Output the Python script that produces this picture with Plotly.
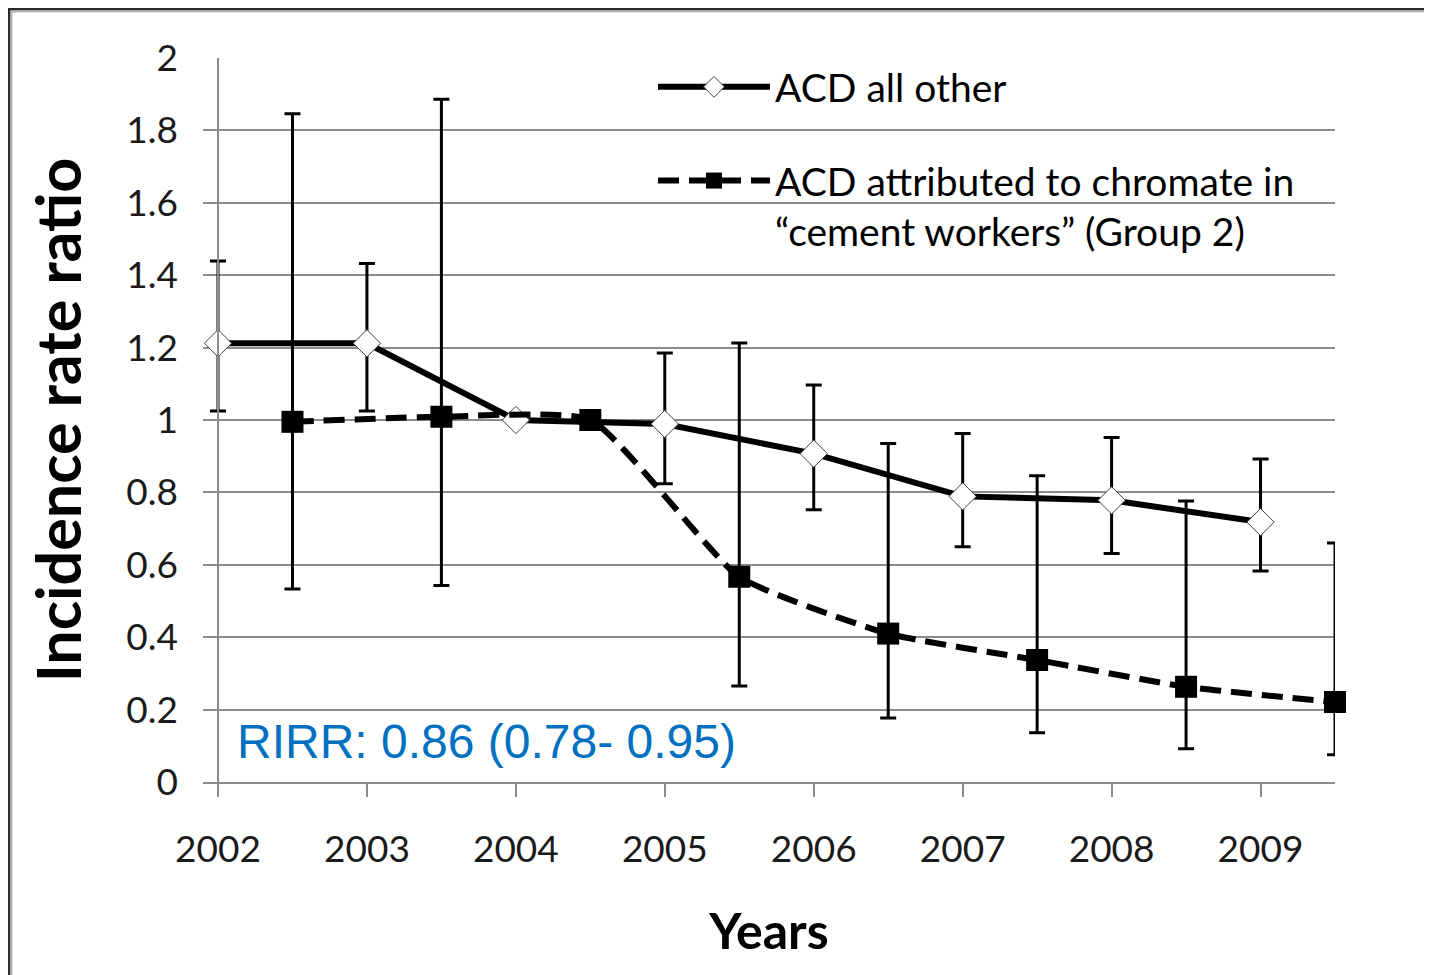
import plotly.graph_objects as go

# ---- data ----
years = [2002, 2003, 2004, 2005, 2006, 2007, 2008, 2009]
year_ticks = ["2002", "2003", "2004", "2005", "2006", "2007", "2008", "2009"]

# ACD all other
other_x = [2002, 2003, 2004, 2005, 2006, 2007, 2008, 2009]
other_irr = [1.212, 1.212, 1.0, 0.989, 0.907, 0.789, 0.778, 0.718]
other_hi = [1.439, 1.432, 1.0, 1.185, 1.097, 0.963, 0.952, 0.892]
other_lo = [1.025, 1.025, 1.0, 0.824, 0.752, 0.650, 0.631, 0.583]

# ACD attributed to chromate in "cement workers" (Group 2)
cement_x = [2002.5, 2003.5, 2004.5, 2005.5, 2006.5, 2007.5, 2008.5, 2009.5]
cement_irr = [0.995, 1.009, 1.0, 0.567, 0.410, 0.337, 0.263, 0.221]
cement_hi = [1.846, 1.886, 1.0, 1.213, 0.935, 0.846, 0.776, 0.660]
cement_lo = [0.533, 0.543, 1.0, 0.265, 0.177, 0.136, 0.092, 0.075]

y_ticks = [0, 0.2, 0.4, 0.6, 0.8, 1.0, 1.2, 1.4, 1.6, 1.8, 2.0]
y_tick_labels = ["0", "0.2", "0.4", "0.6", "0.8", "1", "1.2", "1.4", "1.6", "1.8", "2"]

name_other = "ACD all other"
name_cement = "ACD attributed to chromate in<br>\u201ccement workers\u201d (Group 2)"
rirr_text = "RIRR: 0.86 (0.78- 0.95)"


def err_up(v, hi):
    return [h - a for a, h in zip(v, hi)]


def err_down(v, lo):
    return [a - l for a, l in zip(v, lo)]


FONT = "Lato"
GRID = "#8c8c8c"

fig = go.Figure()

fig.add_trace(go.Scatter(
    x=other_x, y=other_irr, name=name_other, legendgroup="a",
    mode="lines+markers", cliponaxis=False,
    line=dict(color="black", width=6),
    marker=dict(symbol="diamond", size=21, color="white",
                line=dict(color="#404040", width=1)),
    error_y=dict(type="data", symmetric=False,
                 array=err_up(other_irr, other_hi),
                 arrayminus=err_down(other_irr, other_lo),
                 color="black", thickness=3, width=8),
))

fig.add_trace(go.Scatter(
    x=cement_x, y=cement_irr, name=name_cement, legendgroup="b",
    mode="lines+markers", cliponaxis=False,
    line=dict(color="black", width=6, dash="21px,10px", shape="spline", smoothing=0.5),
    marker=dict(symbol="square", size=22, color="black",
                line=dict(color="black", width=0)),
    error_y=dict(type="data", symmetric=False,
                 array=err_up(cement_irr, cement_hi),
                 arrayminus=err_down(cement_irr, cement_lo),
                 color="black", thickness=3, width=8),
))

# the page body has an 8px margin, so the figure starts 8px in
W, H = 1432, 975
PAGE_OFF = 8
PLOT_L, PLOT_R, PLOT_T, PLOT_B = 203, 1335, 58, 782   # page pixels of the plot area
AXIS_X = 218                                           # page pixel of the y-axis line (year 2002)
L, T = PLOT_L - PAGE_OFF, PLOT_T - PAGE_OFF
pw, ph = PLOT_R - PLOT_L, PLOT_B - PLOT_T
R, B = W - L - pw, H - T - ph

X_END = 2009.5
px_per_year = (PLOT_R - AXIS_X) / (X_END - years[0])
X_START = years[0] - (AXIS_X - PLOT_L) / px_per_year


def px_x(p):
    return (p - PLOT_L) / pw


def px_y(q):
    return (PLOT_B - q) / ph


fig.update_layout(
    width=W, height=H,
    margin=dict(l=L, r=R, t=T, b=B, autoexpand=False),
    paper_bgcolor="white", plot_bgcolor="white",
    font=dict(family=FONT, color="#1a1a1a"),
    showlegend=True,
    legend=dict(
        x=px_x(653), y=px_y(55), xanchor="left", yanchor="top",
        bgcolor="rgba(0,0,0,0)", borderwidth=0,
        font=dict(family=FONT, size=39, color="black"),
        itemwidth=112, valign="top", tracegroupgap=40,
        traceorder="grouped",
    ),
    xaxis=dict(
        range=[X_START, X_END], tickmode="array", tickvals=years, ticktext=year_ticks,
        showgrid=False, zeroline=False,
        showline=True, linecolor=GRID, linewidth=1.5,
        ticks="outside", ticklen=13, tickwidth=1.5, tickcolor=GRID,
        tickfont=dict(family=FONT, size=37, color="#1a1a1a"),
        ticklabelstandoff=21,
        title=dict(text="Years", font=dict(family=FONT, size=50, color="black", weight="bold"),
                   standoff=45),
    ),
    yaxis=dict(
        range=[0, 2], tickmode="array", tickvals=y_ticks, ticktext=y_tick_labels,
        anchor="free", position=px_x(AXIS_X),
        showgrid=True, gridcolor=GRID, gridwidth=1.5, zeroline=False,
        showline=True, linecolor=GRID, linewidth=1.5,
        ticks="", 
        tickfont=dict(family=FONT, size=37, color="#1a1a1a"),
        ticklabelstandoff=32,
        title=dict(text="Incidence rate ratio",
                   font=dict(family=FONT, size=61, color="black", weight="bold"),
                   standoff=24),
    ),
)

fig.add_annotation(
    text=rirr_text, xref="paper", yref="paper",
    x=px_x(235), y=px_y(741), xanchor="left", yanchor="middle",
    showarrow=False,
    font=dict(family="Liberation Sans", size=48, color="#0070C0"),
)

# outer frame of the chart picture (top and left edges visible)
fig.add_shape(type="rect", xref="paper", yref="paper",
              x0=px_x(9.25), x1=px_x(1520), y0=px_y(1060), y1=px_y(9.25),
              line=dict(color="#2b2b2b", width=2.5), layer="above")
fig.add_shape(type="rect", xref="paper", yref="paper",
              x0=px_x(11.5), x1=px_x(1520), y0=px_y(1060), y1=px_y(11.5),
              line=dict(color="#b5b5b5", width=2), layer="above")

fig.write_html("out.html")
